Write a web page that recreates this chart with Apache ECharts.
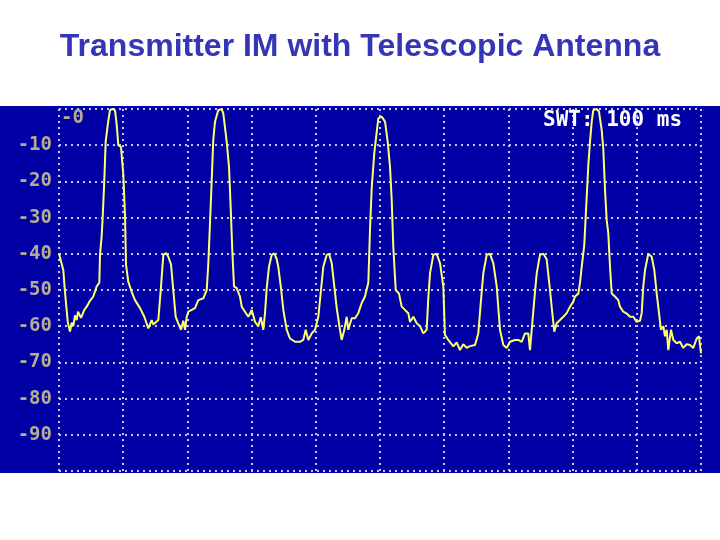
<!DOCTYPE html>
<html>
<head>
<meta charset="utf-8">
<script src="https://cdn.jsdelivr.net/npm/echarts@6/dist/echarts.min.js"></script>
<style>html,body{margin:0;padding:0;background:#fff}#c{width:720px;height:540px}</style>
</head>
<body>
<div id="c"></div>
<script>
var titleText = 'Transmitter IM with Telescopic Antenna';
var sweepLabel = 'SWT: 100 ms';
var topLabel = '-0';
var yTicks = [-10, -20, -30, -40, -50, -60, -70, -80, -90];

// sweep time (ms, 10 ms per division) and level (dB)
var timeMs = [
 0,0.67,0.93,1.36,1.71,1.98,2.23,2.49,2.76,2.96,3.43,3.94,4.31,4.83,5.34,5.87,6.28,6.39,6.65,6.81,7.06,7.27,7.59,7.94,8.30,8.72,8.99,9.24,9.66,10.02,10.28,10.44,10.79,11.32,11.84,12.62,13.29,13.91,14.44,14.69,15.47,15.89,16.25,16.67,17.03,17.45,17.80,18.18,18.58,19.00,19.36,19.63,19.89,20.14,20.67,21.18,21.70,22.48,23.01,23.26,23.52,23.79,24.03,24.30,24.81,25.34,
 25.59,26.12,26.48,26.74,26.99,27.26,27.68,28.19,28.46,28.97,29.49,30.02,30.53,31.04,31.42,31.82,32.09,32.35,32.71,33.13,33.54,33.91,34.16,34.58,34.94,35.47,35.98,36.76,37.54,38.05,38.43,38.83,39.36,39.88,40.39,40.81,41.17,41.70,42.06,42.48,42.88,43.26,43.61,44.03,44.44,44.81,45.06,45.59,46.11,46.62,47.15,47.66,48.18,48.44,48.71,49.11,49.49,49.74,50.26,
 50.78,51.20,51.56,51.82,52.07,52.45,52.96,53.38,53.89,54.41,54.67,55.19,55.72,56.23,56.74,57.27,57.52,57.79,58.30,58.83,59.35,59.86,60.12,60.64,61.42,61.95,62.46,62.98,63.50,64.02,64.80,65.31,65.73,66.09,66.62,67.13,67.65,68.18,68.69,69.21,69.74,70.25,71.03,71.54,72.07,72.59,73.10,73.36,73.63,74.03,74.41,74.92,75.44,
 75.96,76.48,76.84,77.15,77.52,78.04,78.55,79.08,79.60,80.11,80.37,80.89,81.15,81.42,81.82,82.04,82.20,82.45,82.71,82.98,83.22,83.75,84.11,84.53,84.78,85.05,85.31,85.56,85.83,86.09,86.60,87.12,87.38,87.90,88.43,88.94,89.46,89.98,90.50,90.76,91.01,91.28,91.79,92.32,92.73,93.10,93.46,93.77,94.13,94.39,94.66,94.91,95.33,95.69,96.22,96.73,97.24,97.77,98.29,98.80,99.33,99.69,100
];
var levelDb = [
 -40,-44.5,-50.5,-58.8,-61.5,-59,-60,-57,-58.3,-56,-57.7,-55.5,-54.6,-53,-51.8,-49,-48,-40.3,-35,-29.7,-19.6,-9,-4.4,-0.3,0,-0.3,-4.4,-10,-10.5,-18.2,-29.3,-43,-47.7,-50.5,-52.8,-55,-57.4,-60.6,-58.3,-59.5,-58.3,-49,-40.3,-39.8,-40.8,-43,-50,-57.4,-59.2,-61,-58.5,-61,-57.4,-56,-55.5,-55,-52.8,-52.3,-50,-42.6,-31.5,-19.6,-8.6,-3.5,-0.3,0,
 -1.2,-9,-16,-27,-39,-49,-49.5,-51.8,-54.6,-56,-57.4,-55.5,-58.8,-60,-57.5,-61,-56.4,-49.5,-43.6,-40.3,-39.9,-41.5,-43.6,-49.5,-55.5,-61,-63.4,-64.3,-64.3,-63.8,-61,-63.8,-62,-61,-57.4,-50,-43.6,-40.3,-40,-42.6,-49,-55,-59.2,-63.8,-61,-57.4,-61,-57.8,-57.8,-56.4,-53.6,-51.8,-48,-33.4,-21.9,-12.2,-6.3,-2.6,-2.1,
 -3.5,-9,-16,-25,-38,-50,-51,-54.6,-55.5,-56.4,-58.8,-57.4,-59.2,-60,-62,-61,-52.3,-45.4,-40.3,-40,-42.6,-49,-62.4,-63.8,-65.6,-64.5,-66.6,-65,-66,-65.5,-65.2,-62,-52.8,-45.4,-40.3,-40,-42.6,-49,-61,-65.2,-66,-64.3,-63.8,-63.8,-64.3,-62,-62,-66.6,-61,-52.8,-45.4,-40.3,-40,
 -41.5,-50,-56.4,-61.5,-59.2,-58.3,-57.4,-56.4,-54.6,-53.2,-51.8,-51,-48,-43.6,-37.6,-29.7,-24.2,-15.5,-9,-3.5,-0.3,0,-0.7,-5.8,-10.9,-22.4,-30.7,-34.3,-43.6,-51,-51.8,-52.8,-54.6,-56,-56.5,-57.4,-57.4,-58.8,-58.5,-56.4,-49,-44.5,-40,-40.8,-44.5,-51,-56.4,-61,-60,-62.8,-61,-66.6,-61,-63.8,-64.7,-64.3,-66,-65,-65.2,-66,-63.4,-62.8,-67.5
];

var trace = timeMs.map(function (t, i) { return [t, levelDb[i]]; });

var chart = echarts.init(document.getElementById('c'), null, {renderer: 'canvas'});
var gridDots = {color: '#C4C4F0', width: 2, type: [2, 4]};
var labelFont = '"DejaVu Sans Mono", monospace';
chart.setOption({
  animation: false,
  backgroundColor: '#ffffff',
  title: {
    text: titleText, left: 'center', top: 26,
    textStyle: {color: '#3535B8', fontSize: 32, fontWeight: 'bold', fontFamily: '"Liberation Sans", Arial, sans-serif'}
  },
  graphic: [
    {type: 'rect', z: -10, silent: true, shape: {x: 0, y: 106, width: 720, height: 367}, style: {fill: '#0000A4'}},
    {type: 'text', z: 1, silent: true, left: 61, top: 109, style: {text: topLabel, fill: '#B4AC94', font: 'bold 19px ' + labelFont}},
    {type: 'text', z: 1, silent: true, left: 543, top: 110, style: {text: sweepLabel, fill: '#ffffff', font: 'bold 21px ' + labelFont}}
  ],
  grid: {left: 59, right: 19, top: 109, bottom: 69, containLabel: false},
  xAxis: {
    type: 'value', min: 0, max: 100, interval: 10,
    axisLine: {show: false}, axisTick: {show: false}, axisLabel: {show: false},
    splitLine: {show: true, lineStyle: gridDots}
  },
  yAxis: {
    type: 'value', min: -100, max: 0, interval: 10,
    axisLine: {show: false}, axisTick: {show: false},
    axisLabel: {
      margin: 7, color: '#B4AC94', fontFamily: labelFont, fontWeight: 'bold', fontSize: 19,
      formatter: function (v) { return yTicks.indexOf(v) >= 0 ? String(v) : ''; }
    },
    splitLine: {show: true, lineStyle: gridDots}
  },
  series: [{
    type: 'line', data: trace, showSymbol: false, symbol: 'none', z: 5,
    lineStyle: {color: '#FFFF6A', width: 2}
  }]
});
</script>
</body>
</html>
